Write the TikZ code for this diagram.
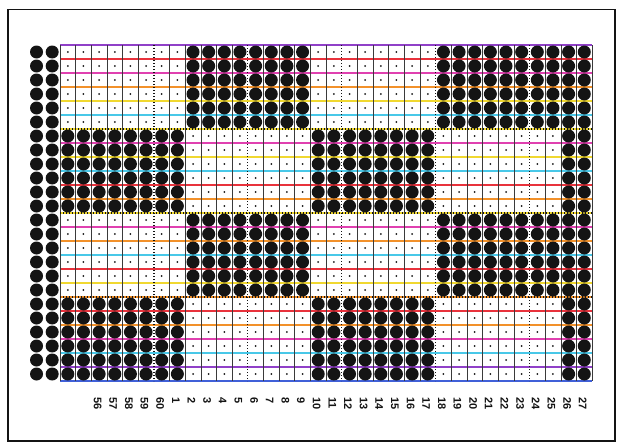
\documentclass[tikz,border=0pt]{standalone}
\usepackage{fontspec}
\setmainfont{Liberation Sans}
\usepackage{tikz}
\definecolor{cardink}{HTML}{141414}
\definecolor{rulegrey}{HTML}{3A3A3A}
\definecolor{tintred}{HTML}{E8323C}
\definecolor{tintpink}{HTML}{E040B0}
\definecolor{tintorange}{HTML}{F2912A}
\definecolor{tintyellow}{HTML}{F0D830}
\definecolor{tintcyan}{HTML}{48C8E8}
\definecolor{tintblue}{HTML}{4060D8}
\definecolor{tintviolet}{HTML}{9040C8}
\def\tintlist{{"tintviolet","tintred","tintpink","tintorange","tintyellow",
  "tintcyan","tintyellow","tintpink","tintyellow","tintcyan","tintred",
  "tintorange","tintyellow","tintpink","tintorange","tintcyan","tintred",
  "tintyellow","tintorange","tintred","tintorange","tintpink","tintcyan",
  "tintviolet","tintblue"}}
\tikzset{
  gridrule/.style={rulegrey, line width=0.6pt},
  guiderule/.style={cardink, line width=1.3pt, dash pattern=on 1.3pt off 1.7pt},
  colnum/.style={rotate=-90, anchor=west, inner sep=0pt,
    font=\bfseries\fontsize{11}{11}\selectfont, text=cardink}
}

\begin{document}
\begin{tikzpicture}[x=15.65pt, y=-14pt]
\useasboundingbox (-3.834,-3.2143) rectangle (35.655,28.4286);
\fill[white] (-3.834,-3.2143) rectangle (35.655,28.4286);
\draw[cardink, line width=1.3pt] (-3.32,-2.536) rectangle (35.46,28.286);
\foreach \y in {0,...,24}{
  \pgfmathsetmacro{\tint}{\tintlist[\y]}
  \draw[color=\tint, line width=1.4pt] (0,\y) -- (34,\y);
}
\foreach \x in {0,1,2,3,4,5,7,8,9,10,11,13,14,15,16,17,19,20,21,22,23,25,26,27,28,29,31,32,33,34}
  \draw[gridrule] (\x,0) -- (\x,24);
\foreach \x in {6,12,...,30}
  \draw[guiderule] (\x,0) -- (\x,24);
\foreach \y in {6,12,18}
  \draw[guiderule] (0,\y) -- (34,\y);
\foreach \r in {1,...,24}{
  \fill[cardink] (-1.5,\r-0.5) circle (6.5pt) (-0.5,\r-0.5) circle (6.5pt);
  \foreach \c in {1,...,34}{
    \pgfmathtruncatemacro{\band}{(\r-1)/6}
    \pgfmathtruncatemacro{\blk}{(\c-1)/8}
    \pgfmathtruncatemacro{\punched}{(\c>32) || (mod(\band+\blk,2)==1)}
    \ifnum\punched=1
      \fill[cardink] (\c-0.5,\r-0.5) circle (6.5pt);
    \else
      \fill[cardink] (\c-0.5,\r-0.5) circle (1pt);
    \fi
  }
}
\foreach \n [count=\c from 3] in {56,57,58,59,60,1,2,...,27}
  \node[colnum] (num-\n) at (\c-0.6,25.14) {\n};
\end{tikzpicture}
\end{document}
